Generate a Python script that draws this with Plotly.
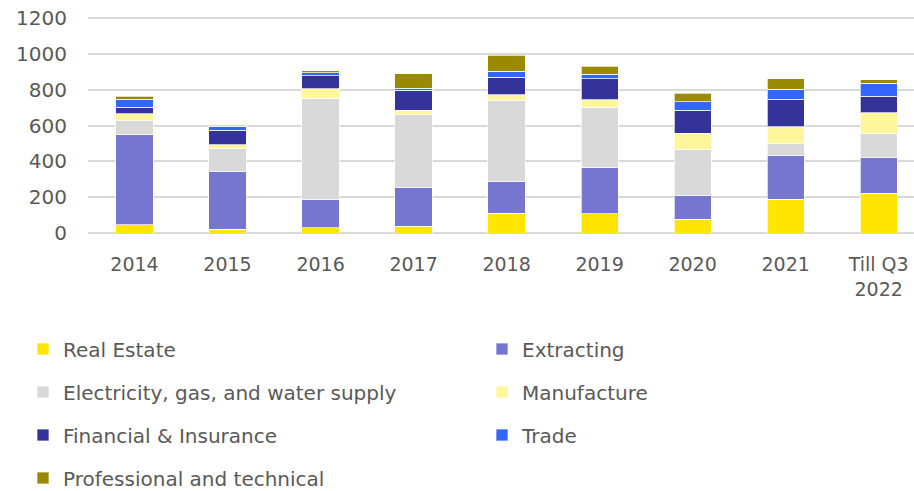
import plotly.graph_objects as go

categories = ["2014", "2015", "2016", "2017", "2018", "2019", "2020", "2021", "Till Q3<br>2022"]
real_estate = [46, 22, 30, 39, 110, 108, 78, 188, 223]
extracting = [505, 320, 156, 214, 176, 258, 130, 247, 201]
electricity = [76, 129, 565, 407, 454, 335, 259, 62, 132]
manufacture = [39, 22, 54, 24, 32, 43, 89, 96, 115]
financial = [35, 80, 73, 114, 97, 117, 130, 155, 92]
trade = [47, 24, 18, 9, 33, 26, 47, 54, 74]
professional = [15, 6, 10, 82, 91, 45, 46, 59, 19]

series_names = ["Real Estate", "Extracting", "Electricity, gas, and water supply",
                "Manufacture", "Financial & Insurance", "Trade", "Professional and technical"]
series_values = [real_estate, extracting, electricity, manufacture, financial, trade, professional]
series_colors = ["#FFE500", "#7676D0", "#D9D9D9", "#FFF59A", "#333399", "#3366FF", "#998A00"]

FONT = "DejaVu Sans"
TXT = "#595959"

W, H = 914, 491

fig = go.Figure()
legends = {}
row_y = [349, 392, 435, 478]
col_text_x = [63, 522]
for i, (name, vals, color) in enumerate(zip(series_names, series_values, series_colors)):
    key = "legend" if i == 0 else f"legend{i + 1}"
    fig.add_trace(go.Bar(
        x=list(range(len(categories))), y=vals, name=name,
        marker=dict(color=color, line=dict(color="rgba(255,255,255,0.7)", width=1)),
        legend=key,
    ))
    row, col = divmod(i, 2)
    box_left = col_text_x[col] - 40
    legends[key] = dict(
        xref="container", yref="container",
        x=box_left / W, xanchor="left",
        y=1 - row_y[row] / H, yanchor="middle",
        font=dict(family=FONT, size=20, color=TXT),
        bgcolor="rgba(0,0,0,0)", borderwidth=0,
    )

fig.update_layout(
    width=W, height=H,
    barmode="stack", bargap=0.6,
    plot_bgcolor="white", paper_bgcolor="white",
    margin=dict(l=88, r=0, t=17, b=H - 233, autoexpand=False),
    font=dict(family=FONT, size=20, color=TXT),
    showlegend=True,
    **legends,
)
fig.update_xaxes(
    tickmode="array", tickvals=list(range(len(categories))), ticktext=categories,
    range=[-0.5, 8.38], showgrid=False, zeroline=False, showline=False,
    tickfont=dict(family=FONT, size=19, color=TXT), ticklabelstandoff=18,
    automargin=False,
)
fig.update_yaxes(
    range=[0, 1206], tickmode="array", tickvals=[0, 200, 400, 600, 800, 1000, 1200],
    showgrid=True, gridcolor="#D9D9D9", gridwidth=1.5,
    zeroline=True, zerolinecolor="#D9D9D9", zerolinewidth=1.5, showline=False,
    tickfont=dict(family=FONT, size=20, color=TXT), ticklabelstandoff=20,
    automargin=False,
)
fig.write_html(
    "out.html",
    config={"displayModeBar": False},
    post_script="document.body.style.margin='0';document.body.style.overflow='hidden';",
)
